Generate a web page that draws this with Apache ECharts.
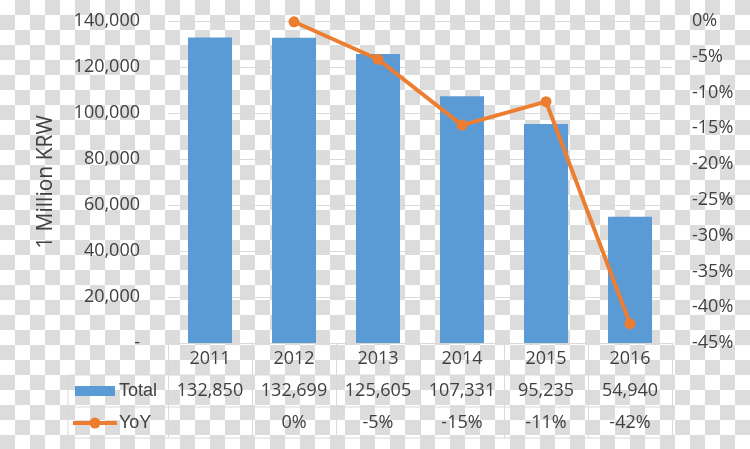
<!DOCTYPE html>
<html><head><meta charset="utf-8">
<script src="https://cdn.jsdelivr.net/npm/echarts@6/dist/echarts.min.js"></script>
<style>html,body{margin:0;padding:0;}#c{width:750px;height:449px;}</style>
</head><body><div id="c"></div>
<script>
var years = ['2011','2012','2013','2014','2015','2016'];
var totalValues = [132850, 132699, 125605, 107331, 95235, 54940];
var yoyValues = [null, -0.11, -5.35, -14.55, -11.27, -42.31];
var yoyLabels = ['', '0%', '-5%', '-15%', '-11%', '-42%'];
var leftTicks = {min: 0, max: 140000, interval: 20000};
var rightTicks = {min: -45, max: 0, interval: 5};

var FONT = '"Open Sans", "Noto Sans", sans-serif';
var TXT = '#404040';
var LINE = '#d9d9d9';
var FS = 18;
var G = {left: 168, right: 78, top: 21, bottom: 106};
var W = 750, H = 449;
var plotR = W - G.right, plotB = H - G.bottom;
var rowH = 32;

// checkerboard background
var cv = document.createElement('canvas');
cv.width = 30; cv.height = 30;
var cx = cv.getContext('2d');
cx.fillStyle = '#ffffff'; cx.fillRect(0,0,30,30);
cx.fillStyle = '#dcdcdc'; cx.fillRect(15,0,15,15); cx.fillRect(0,15,15,15);

function fmt(n){ return n.toString().replace(/\B(?=(\d{3})+(?!\d))/g, ','); }

var chart = echarts.init(document.getElementById('c'));
chart.setOption({
  backgroundColor: {image: cv, repeat: 'repeat'},
  animation: false,
  textStyle: {fontFamily: FONT},
  grid: {left: G.left, right: G.right, top: G.top, bottom: G.bottom},
  xAxis: {
    type: 'category', data: years, boundaryGap: true,
    axisLine: {lineStyle: {color: LINE, width: 1}},
    axisTick: {show: true, length: rowH * 3 - 1, lineStyle: {color: LINE}},
    axisLabel: {
      margin: 0, interval: 0,
      formatter: function(v, i){
        return '{y|' + v + '}\n{t|' + fmt(totalValues[i]) + '}\n{p|' + (yoyLabels[i] || ' ') + '}';
      },
      rich: {
        y: {fontSize: FS, lineHeight: rowH, color: TXT, fontFamily: FONT},
        t: {fontSize: FS, lineHeight: rowH, color: TXT, fontFamily: FONT},
        p: {fontSize: FS, lineHeight: rowH, color: TXT, fontFamily: FONT}
      }
    }
  },
  yAxis: [{
    type: 'value', min: leftTicks.min, max: leftTicks.max, interval: leftTicks.interval,
    name: '1 Million KRW', nameLocation: 'middle', nameRotate: 90, nameGap: 111,
    nameTextStyle: {fontSize: 21, color: TXT, fontFamily: FONT},
    axisLine: {show: false}, axisTick: {show: false},
    axisLabel: {margin: 28, fontSize: FS, color: TXT,
      formatter: function(v){ return v === 0 ? '-' : fmt(v); }},
    splitLine: {lineStyle: {color: LINE, width: 1}}
  }, {
    type: 'value', min: rightTicks.min, max: rightTicks.max, interval: rightTicks.interval,
    position: 'right',
    axisLine: {show: false}, axisTick: {show: false},
    axisLabel: {margin: 20, fontSize: FS, color: TXT, align: 'left',
      formatter: function(v){ return v + '%'; }},
    splitLine: {show: false}
  }],
  series: [{
    name: 'Total', type: 'bar', data: totalValues, barWidth: 44,
    itemStyle: {color: '#5b9bd5'}, yAxisIndex: 0
  }, {
    name: 'YoY', type: 'line', data: yoyValues, yAxisIndex: 1,
    lineStyle: {color: '#ed7d31', width: 4},
    itemStyle: {color: '#ed7d31'},
    symbol: 'circle', symbolSize: 11, showAllSymbol: true, connectNulls: false
  }],
  graphic: [
    {type: 'line', shape: {x1: 68, y1: plotB + rowH, x2: plotR, y2: plotB + rowH}, style: {stroke: LINE, lineWidth: 1}},
    {type: 'line', shape: {x1: 68, y1: plotB + rowH*2, x2: plotR, y2: plotB + rowH*2}, style: {stroke: LINE, lineWidth: 1}},
    {type: 'line', shape: {x1: 68, y1: plotB + rowH*3 - 1, x2: plotR, y2: plotB + rowH*3 - 1}, style: {stroke: LINE, lineWidth: 1}},
    {type: 'line', shape: {x1: 68, y1: plotB + rowH, x2: 68, y2: plotB + rowH*3 - 1}, style: {stroke: LINE, lineWidth: 1}},
    {type: 'rect', shape: {x: 75, y: plotB + rowH + 11, width: 40, height: 10}, style: {fill: '#5b9bd5'}},
    {type: 'text', x: 119, y: plotB + rowH + 16, style: {text: 'Total', fontSize: FS, fill: TXT, font: FS + 'px ' + FONT, textVerticalAlign: 'middle', verticalAlign: 'middle'}},
    {type: 'line', shape: {x1: 73, y1: plotB + rowH*2 + 16, x2: 117, y2: plotB + rowH*2 + 16}, style: {stroke: '#ed7d31', lineWidth: 4}},
    {type: 'circle', shape: {cx: 95, cy: plotB + rowH*2 + 16, r: 5.5}, style: {fill: '#ed7d31'}},
    {type: 'text', x: 119, y: plotB + rowH*2 + 16, style: {text: 'YoY', fontSize: FS, fill: TXT, font: FS + 'px ' + FONT, textVerticalAlign: 'middle', verticalAlign: 'middle'}}
  ]
});
</script>
</body></html>
